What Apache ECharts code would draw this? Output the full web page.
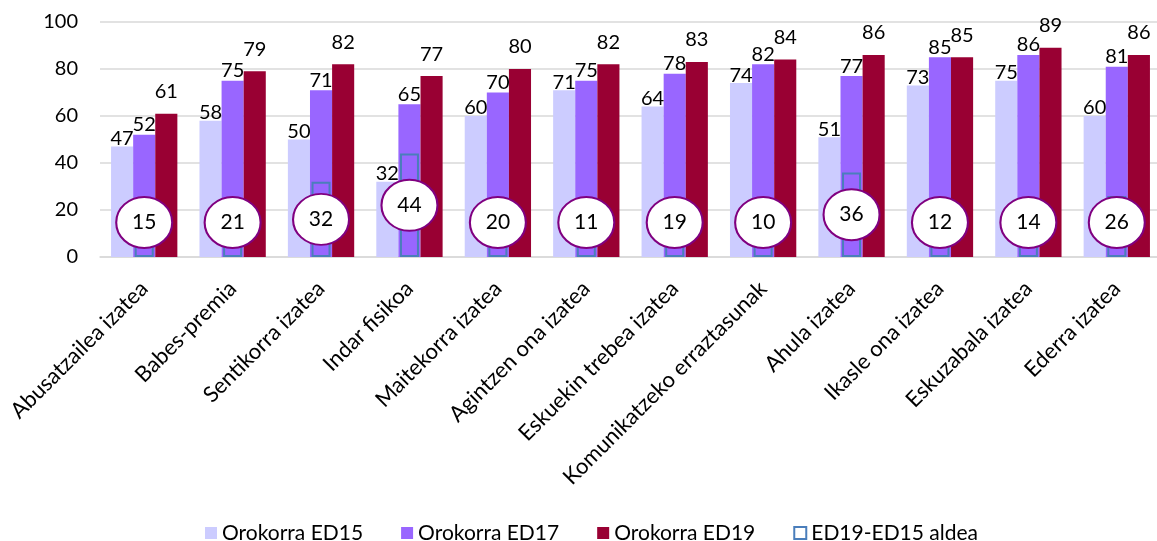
<!DOCTYPE html>
<html>
<head>
<meta charset="utf-8">
<script src="https://cdn.jsdelivr.net/npm/echarts@6/dist/echarts.min.js"></script>
<style>
html,body{margin:0;padding:0;background:#fff;}
#chart{width:1157px;height:541px;}
</style>
</head>
<body>
<div id="chart"></div>
<script>
const categories = ["Abusatzailea izatea","Babes-premia","Sentikorra izatea","Indar fisikoa","Maitekorra izatea","Agintzen ona izatea","Eskuekin trebea izatea","Komunikatzeko erraztasunak","Ahula izatea","Ikasle ona izatea","Eskuzabala izatea","Ederra izatea"];
const ed15 = [47,58,50,32,60,71,64,74,51,73,75,60];
const ed17 = [52,75,71,65,70,75,78,82,77,85,86,81];
const ed19 = [61,79,82,77,80,82,83,84,86,85,89,86];
const aldea = [15,21,32,44,20,11,19,10,36,12,14,26];
const yTicks = [0,20,40,60,80,100];

const FONT = 'Lato';
const chart = echarts.init(document.getElementById('chart'));

const bubbleData = aldea.map((d, i) => [i, Math.max(d / 2, 14.7)]);

chart.setOption({
  animation: false,
  textStyle: { fontFamily: FONT, color: '#000' },
  grid: { left: 100, right: -4, top: 22, bottom: 284, outerBoundsMode: 'none', containLabel: false },
  legend: {
    left: 200, top: 517,
    itemWidth: 12, itemHeight: 12, itemGap: 38,
    icon: 'rect',
    textStyle: { fontFamily: FONT, fontSize: 21, color: '#000', lineHeight: 22 },
    data: [
      { name: 'Orokorra ED15' },
      { name: 'Orokorra ED17' },
      { name: 'Orokorra ED19' },
      { name: 'ED19-ED15 aldea', itemStyle: { color: '#fff', borderColor: '#4a7ebb', borderWidth: 2 } }
    ]
  },
  xAxis: [
    {
      type: 'category', data: categories,
      axisLine: { lineStyle: { color: '#d9d9d9', width: 1.5 } },
      axisTick: { show: false },
      axisLabel: { rotate: 45, margin: 28, fontFamily: FONT, fontSize: 22, color: '#000', interval: 0 }
    },
    {
      type: 'category', data: categories, show: false, gridIndex: 0
    }
  ],
  yAxis: {
    type: 'value', min: 0, max: 100, interval: 20,
    axisLine: { show: false }, axisTick: { show: false },
    splitLine: { lineStyle: { color: '#d9d9d9', width: 1.5 } },
    axisLabel: { margin: 22, fontFamily: FONT, fontSize: 20, color: '#000',
      formatter: v => yTicks.includes(v) ? String(v) : '' }
  },
  series: [
    {
      name: 'Orokorra ED15', type: 'bar', data: ed15, xAxisIndex: 0,
      barGap: '0%', barCategoryGap: '25%',
      itemStyle: { color: '#ccccff' },
      label: { show: true, position: 'top', distance: -2, fontFamily: FONT, fontSize: 20, color: '#000' },
      z: 2
    },
    {
      name: 'Orokorra ED17', type: 'bar', data: ed17, xAxisIndex: 0,
      barGap: '0%', barCategoryGap: '25%',
      itemStyle: { color: '#9966ff' },
      label: { show: true, position: 'top', distance: 0, fontFamily: FONT, fontSize: 20, color: '#000' },
      z: 2
    },
    {
      name: 'Orokorra ED19', type: 'bar', data: ed19, xAxisIndex: 0,
      barGap: '0%', barCategoryGap: '25%',
      itemStyle: { color: '#990033' },
      label: { show: true, position: 'top', distance: 12, fontFamily: FONT, fontSize: 20, color: '#000' },
      z: 2
    },
    {
      name: 'ED19-ED15 aldea', type: 'bar', data: aldea, xAxisIndex: 1,
      barWidth: 19,
      itemStyle: { color: 'rgba(0,0,0,0)', borderColor: '#4a7ebb', borderWidth: 2 },
      z: 3
    },
    {
      name: 'aldea-label', type: 'scatter', data: bubbleData, xAxisIndex: 1,
      symbol: 'circle', symbolSize: [56, 51],
      itemStyle: { color: '#fff', borderColor: '#800080', borderWidth: 2, opacity: 1 },
      label: { show: true, position: 'inside', fontFamily: FONT, fontSize: 21, color: '#000',
        formatter: p => String(aldea[p.dataIndex]) },
      z: 5
    }
  ]
});
</script>
</body>
</html>
